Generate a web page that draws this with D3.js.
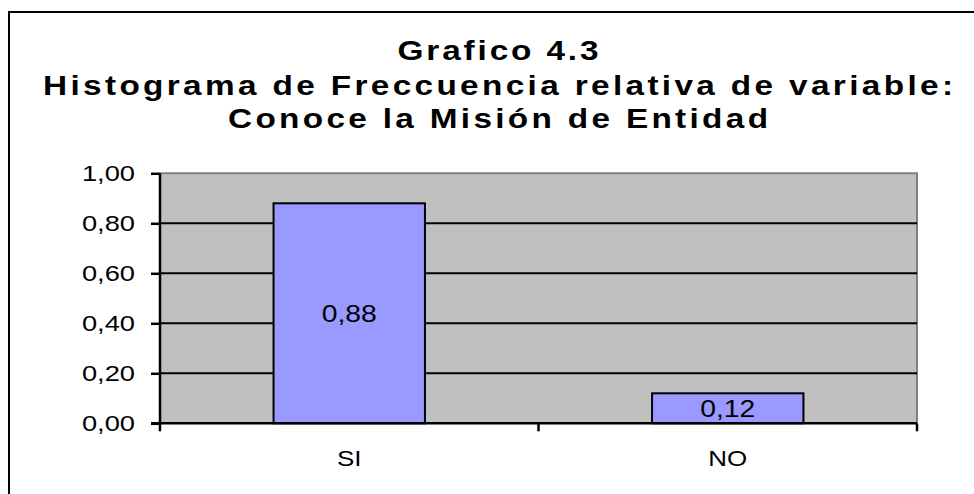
<!DOCTYPE html>
<html>
<head>
<meta charset="utf-8">
<script src="https://cdn.jsdelivr.net/npm/d3@7"></script>
<style>
  html, body { margin: 0; padding: 0; background: #fff; }
  svg { display: block; }
  text { font-family: "Liberation Sans", Arial, sans-serif; fill: #000; }
</style>
</head>
<body>
<svg id="chart" width="974" height="494"></svg>
<script>
const titleLines = ["Grafico 4.3", "Histograma de Freccuencia relativa de variable:", "Conoce la Misión de Entidad"];
const categories = ["SI", "NO"];
const values = [0.88, 0.12];
const yTicks = [0, 0.2, 0.4, 0.6, 0.8, 1.0];

const svg = d3.select("#chart");
const plot = { left: 160, right: 917, top: 173.3, bottom: 423.3 };

const fmt = v => d3.format(".2f")(v).replace(".", ",");

// outer frame (extends beyond the visible window at right/bottom)
svg.append("rect").attr("x", 9).attr("y", 12).attr("width", 1100).attr("height", 700)
  .attr("fill", "#fff").attr("stroke", "#000").attr("stroke-width", 2);

// title
const titleBase = [60, 95, 128];
const titleLen = [201, 910, 540];
const tsx = 1.17;
svg.append("g").selectAll("g").data(titleLines).join("g")
  .attr("transform", (d, i) => `translate(498,${titleBase[i]}) scale(${tsx},1)`)
  .append("text")
  .attr("text-anchor", "middle")
  .attr("font-size", 28.5).attr("font-weight", "bold")
  .attr("textLength", (d, i) => titleLen[i] / tsx)
  .attr("lengthAdjust", "spacing")
  .text(d => d);

const x = d3.scaleBand().domain(categories).range([plot.left, plot.right])
  .paddingInner(0.6).paddingOuter(0.3);
const y = d3.scaleLinear().domain([0, 1]).range([plot.bottom, plot.top]);

// plot area background
svg.append("rect").attr("x", plot.left).attr("y", plot.top)
  .attr("width", plot.right - plot.left).attr("height", plot.bottom - plot.top)
  .attr("fill", "#C0C0C0");
// top/right gray border
svg.append("path")
  .attr("d", `M${plot.left},${plot.top}H${plot.right}V${plot.bottom}`)
  .attr("fill", "none").attr("stroke", "#808080").attr("stroke-width", 2);

// gridlines
svg.append("g").selectAll("line").data(yTicks.filter(t => t > 0 && t < 1)).join("line")
  .attr("x1", plot.left).attr("x2", plot.right)
  .attr("y1", d => y(d)).attr("y2", d => y(d))
  .attr("stroke", "#000").attr("stroke-width", 2);

// bars
svg.append("g").selectAll("rect").data(values).join("rect")
  .attr("x", (d, i) => x(categories[i]))
  .attr("y", d => y(d))
  .attr("width", x.bandwidth())
  .attr("height", d => y(0) - y(d))
  .attr("fill", "#9999FF").attr("stroke", "#000").attr("stroke-width", 2);

// value labels
svg.append("g").selectAll("g").data(values).join("g")
  .attr("transform", (d, i) => `translate(${x(categories[i]) + x.bandwidth() / 2},${(y(d) + y(0)) / 2}) scale(1.18,1)`)
  .append("text")
  .attr("text-anchor", "middle").attr("dy", "0.36em")
  .attr("font-size", 24)
  .text(d => fmt(d));

// y axis
const yAxis = svg.append("g").attr("transform", `translate(${plot.left},0)`)
  .call(d3.axisLeft(y).tickValues(yTicks).tickSize(9).tickFormat(""));
yAxis.select(".domain").attr("stroke", "#000").attr("stroke-width", 2.5)
  .attr("d", `M0,${plot.top}V${plot.bottom + 1}`);
yAxis.selectAll(".tick line").attr("stroke", "#000").attr("stroke-width", 2.5);
svg.append("g").selectAll("g").data(yTicks).join("g")
  .attr("transform", d => `translate(135,${y(d)}) scale(1.27,1)`)
  .append("text")
  .attr("text-anchor", "end").attr("dy", "0.36em")
  .attr("font-size", 21.5)
  .text(d => fmt(d));

// x axis
const boundaries = [plot.left, ...categories.slice(1).map(c => x(c) - x.step() * x.paddingInner() / 2), plot.right];
const xAxis = svg.append("g");
xAxis.append("line").attr("x1", plot.left - 9).attr("x2", plot.right)
  .attr("y1", plot.bottom).attr("y2", plot.bottom)
  .attr("stroke", "#000").attr("stroke-width", 2.5);
xAxis.selectAll("line.tick").data(boundaries).join("line").attr("class", "tick")
  .attr("x1", d => d).attr("x2", d => d)
  .attr("y1", plot.bottom).attr("y2", plot.bottom + 8)
  .attr("stroke", "#000").attr("stroke-width", 2.5);
svg.append("g").selectAll("g").data(categories).join("g")
  .attr("transform", d => `translate(${x(d) + x.bandwidth() / 2},466) scale(1.18,1)`)
  .append("text")
  .attr("text-anchor", "middle")
  .attr("font-size", 22)
  .text(d => d);
</script>
</body>
</html>
